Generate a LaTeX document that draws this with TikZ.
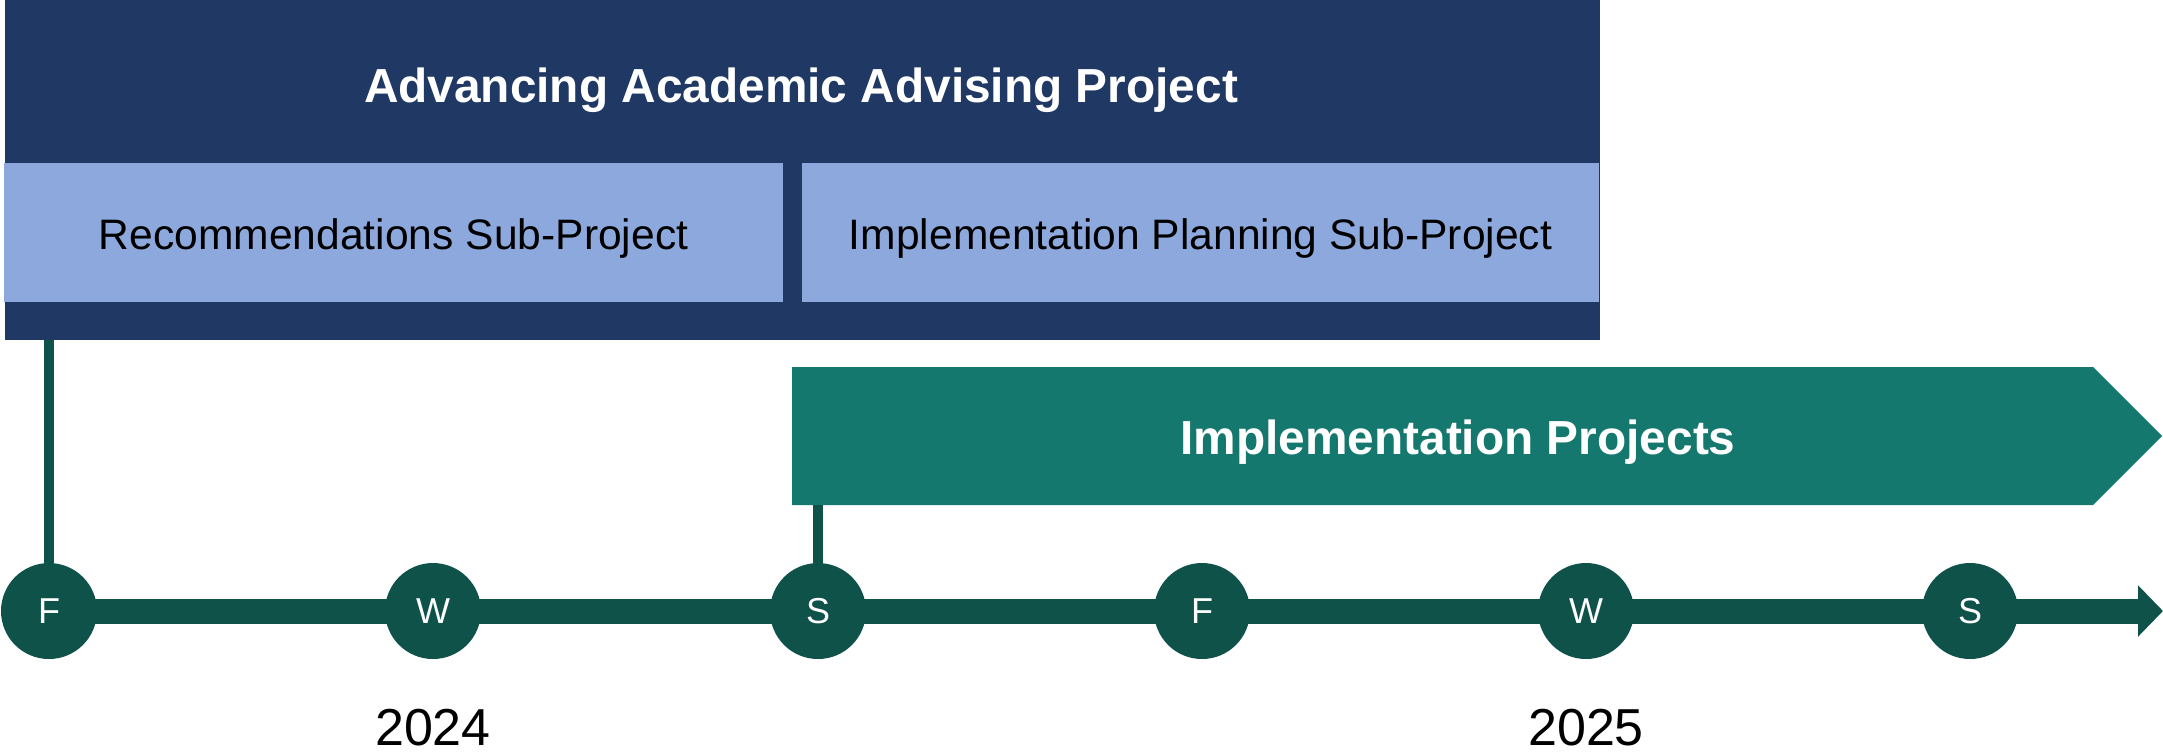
\documentclass[tikz,border=0pt]{standalone}
\usepackage{fontspec}
\setmainfont{Liberation Sans}
\usetikzlibrary{arrows.meta,backgrounds}
\definecolor{navy}{RGB}{31,56,100}
\definecolor{lightblue}{RGB}{140,168,220}
\definecolor{tealbox}{RGB}{21,120,110}
\definecolor{darkgreen}{RGB}{14,82,74}
\tikzset{
  season/.style={circle,fill=darkgreen,text=white,inner sep=0pt,minimum size=48pt,font=\fontsize{18}{18}\selectfont},
  subtext/.style={anchor=base,inner sep=0pt,font=\fontsize{21.3}{21.3}\selectfont},
  connector/.style={draw=darkgreen,line width=5pt},
  timeline/.style={draw=darkgreen,line width=12.5pt,-{Triangle[length=12.5pt,width=25pt]}},
  yearlabel/.style={anchor=base,font=\fontsize{26}{26}\selectfont,inner sep=0pt},
  bigtitle/.style={anchor=base,text=white,font=\bfseries\fontsize{23.9}{23.9}\selectfont,inner sep=0pt}
}
\begin{document}
\begin{tikzpicture}[x=0.5pt,y=-0.5pt]
\useasboundingbox (0,0) rectangle (2163,752);
% main project box
\fill[navy] (5,0) rectangle (1600,340);
\coordinate (projbottom) at (49,340);
\node[bigtitle] (title) at (801,102) {Advancing Academic Advising Project};
\fill[lightblue] (4,163) rectangle (783,302);
\fill[lightblue] (802,163) rectangle (1599,302);
\node[subtext] (rec) at (393.5,249) {Recommendations Sub-Project};
\node[subtext] (ipl) at (1200.5,249) {Implementation Planning Sub-Project};
% implementation projects chevron
\fill[tealbox] (792,367) -- (2093,367) -- (2162,436) -- (2093,505) -- (792,505) -- cycle;
\coordinate (implbottom) at (818,505);
\node[bigtitle] (impl) at (1458,454) {Implementation Projects};
% season circles
\node[season] (F1) at (49,611) {F};
\node[season] (W1) at (433,611) {W};
\node[season] (S1) at (818,611) {S};
\node[season] (F2) at (1202,611) {F};
\node[season] (W2) at (1586,611) {W};
\node[season] (S2) at (1970,611) {S};
\coordinate (tend) at (2163,611);
\begin{scope}[on background layer]
\draw[timeline] (F1.center) -- (tend);
\end{scope}
\draw[connector] (projbottom) -- (F1.north);
\draw[connector] (implbottom) -- (S1.north);
% years
\node[yearlabel] (y2024) at (433,745) {2024};
\node[yearlabel] (y2025) at (1586,745) {2025};
\end{tikzpicture}
\end{document}
